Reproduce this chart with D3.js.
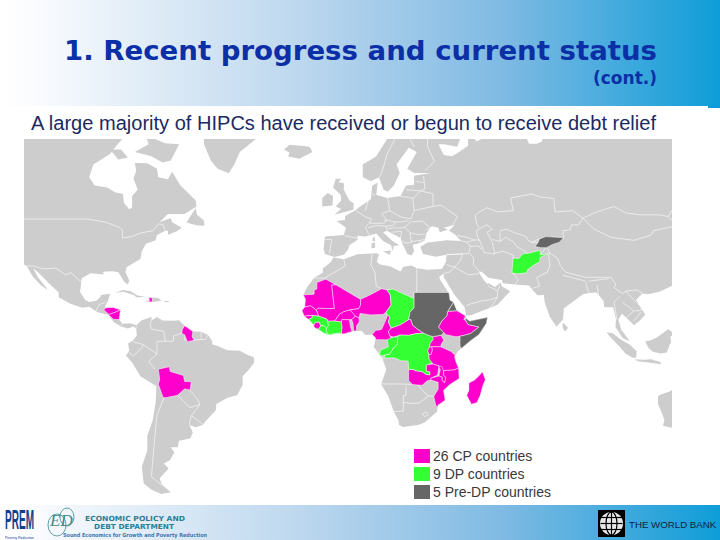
<!DOCTYPE html>
<html><head><meta charset="utf-8">
<script src="https://cdn.jsdelivr.net/npm/d3@7"></script>
<style>html,body{margin:0;padding:0;background:#fff}svg{display:block}</style></head>
<body><svg id="c" width="720" height="540"></svg>
<script>
const titleText = "1. Recent progress and current status";
const contText = "(cont.)";
const subtitleText = "A large majority of HIPCs have received or begun to receive debt relief";
const legendLabels = ["26 CP countries", "9 DP countries", "5 Pre-DP countries"];
const legendKeys = ["CP", "DP", "PreDP"];
const statusColors = ["#ff00cc", "#33ff33", "#666666"];

// Calibration of the reference map (longitude / latitude anchors read from it)
const lonAnchors = [-118, -87, -17.5, 51, 80, 113.5, 121];
const lonPixels  = [24, 110, 302, 487, 563, 658, 680];
const latAnchors = [-55, -34.8, -17, 0, 8, 25, 36, 49, 65, 75];
const latPixels  = [493, 427, 383, 344.5, 327, 285, 257, 219, 152, 100];

const land = [
 [[-140,75],[-130,72],[-120,70],[-115,68.5],[-108,68],[-100,68],[-95,68.5],[-95,72],[-90,69],[-85,69.5],[-81,68.5],[-85,66],[-87,64.5],[-93,62],[-94.5,59],[-92.5,57],[-88,56.5],[-85,55.3],[-82.3,55],[-82,52.9],[-80,51.3],[-79,51.8],[-79,54.5],[-77,56],[-78.5,58.7],[-77.5,60.5],[-78,62.4],[-73.5,62.3],[-70,61],[-69.5,59],[-66,58.5],[-64.5,60.3],[-61.5,57],[-56,53.5],[-55.7,52],[-60,50.2],[-66,50.2],[-69,48],[-65,49.2],[-64.5,47.9],[-61,46],[-63,44.7],[-66,43.6],[-66,45],[-67,45],[-70,43.5],[-70.5,41.7],[-74,40.5],[-75.5,38],[-76,35.2],[-78,33.9],[-81,32],[-81.4,30],[-80,26.8],[-80.5,25.2],[-81.8,26.2],[-82.8,28],[-84,30],[-86,30.4],[-89.5,30.2],[-89.3,29.1],[-91,29.3],[-94,29.6],[-97.2,27.7],[-97.5,24.5],[-97.8,22.3],[-96,19],[-94.5,18.1],[-92,18.6],[-90.5,20],[-90.3,21],[-87,21.5],[-87.7,18.5],[-88.5,17],[-88.8,15.9],[-86,15.9],[-83.2,15],[-83.7,11],[-82.5,9.3],[-79.7,9.5],[-77.4,8.7],[-77.8,7.3],[-78.4,8.3],[-80.5,7.3],[-83,8.2],[-85.7,10],[-87.6,13],[-91.5,14],[-94.5,16.2],[-97,15.8],[-101.5,17.5],[-105.5,20],[-105.5,22],[-109,25.7],[-112.5,29.5],[-114.7,31.7],[-113,28],[-110,24],[-109.5,23],[-112,25],[-115,28.5],[-117,32.5],[-120.5,34.5],[-125,40],[-130,50],[-140,60]],
 [[-77.4,8.7],[-75.5,10.7],[-72,12],[-71.7,10.8],[-70,12],[-68,10.6],[-64,10.5],[-62,10.7],[-60,8.5],[-57,6],[-54,5.8],[-51.5,4.3],[-50,1.5],[-50,0],[-48,-0.7],[-44.5,-2.5],[-40,-2.8],[-37,-4.8],[-35,-5.5],[-34.8,-8],[-37,-11.5],[-39,-14],[-39,-17.8],[-41,-22],[-44.5,-23],[-48.5,-25.5],[-48.7,-28],[-52,-32],[-53.5,-34],[-56,-34.9],[-58.3,-34],[-57,-36.5],[-58,-38.3],[-62,-39],[-62.5,-41],[-65,-41],[-63.7,-42.5],[-65.3,-45],[-67.5,-46],[-65.8,-47.5],[-69,-50.5],[-68.3,-52.4],[-65,-54.8],[-68.5,-55.3],[-72,-54],[-74.8,-52],[-75.5,-47],[-73.5,-42],[-73.5,-37.5],[-71.5,-32],[-70.5,-25],[-70.2,-18.3],[-76,-14],[-79,-8],[-81.2,-5],[-80,-2.5],[-80.5,0.5],[-78.7,1.8],[-77.3,4],[-77.5,7]],
 [[-55,75],[-53,69],[-53,66.5],[-50.5,63],[-48,61],[-44,59.9],[-42,62],[-40,65],[-33,68],[-22,70.5],[-22,75]],
 [[-24,65.5],[-22,66.4],[-18,66.2],[-14.7,66],[-13.6,65],[-18.5,63.4],[-22.5,63.9],[-22,64.8]],
 [[-80,73],[-78,70],[-73,68],[-67,66.7],[-62,66.5],[-65,63],[-68,62.5],[-72,64],[-78,65],[-73,66.5],[-74,68],[-85,70],[-90,73]],
 [[-87,65.5],[-84,63.2],[-80.5,63.7],[-83,65.5]],
 [[-59.3,47.8],[-56,51.6],[-55.5,50],[-53,48.5],[-52.8,46.7],[-55.8,46.9]],
 [[-85,21.9],[-82.5,23],[-79.5,22.5],[-77,20.8],[-74.2,20.2],[-77.5,19.9],[-78,20.7],[-82,22.3]],
 [[-71.7,18.1],[-68.4,18.6],[-69.5,19.7],[-71.7,19.9]],
 [[-67.2,18],[-65.6,18.2],[-65.8,18.5],[-67.2,18.5]],
 [[-5.9,35.8],[-2,35.1],[3,36.9],[10,37.3],[11,36.9],[10.2,34],[11.5,33.1],[15.3,32.3],[19,30.3],[20,32.2],[23,32.7],[25,31.6],[29,31],[32.3,31.2],[32.6,29.9],[33.7,27],[35.6,23.9],[37.2,21],[37.3,18.9],[38.6,18],[39.7,15],[43.1,12.6],[43.3,11.5],[44.5,10.4],[51.2,11.9],[50.8,9.5],[48,4.5],[45,1.8],[41.6,-1.7],[40.2,-3],[39,-5.5],[39.6,-8],[40.5,-10.5],[40.7,-15],[37,-17.8],[34.9,-20],[35.5,-24],[32.8,-26],[32.5,-28.5],[31,-30],[27.9,-33],[25.5,-34],[20,-34.8],[18.4,-34],[18.2,-32],[16.5,-28.6],[14.5,-22.5],[11.8,-17.5],[13.7,-11],[12.2,-6],[9,-1],[9.5,1],[9.8,3.5],[8.5,4.6],[6,4.3],[4.5,6.3],[1,5.9],[-2,4.8],[-4.5,5.2],[-7.5,4.4],[-11.5,6.9],[-13.2,8.8],[-15,11],[-16.7,12.4],[-17.5,14.7],[-16.3,16],[-16.2,19.2],[-17,21],[-15.8,23.8],[-13,27.8],[-9.8,29.8],[-9.8,31.5],[-6.8,34]],
 [[5,60],[5,62],[10,64],[14,67.5],[20,70],[26,71],[31,70],[41,67.5],[40,66],[35,66.5],[33,66.5],[35,64.3],[38,64],[40,64.7],[44,66.2],[44,68],[46,68.2],[47,67],[53,68.5],[65,69],[67,66.6],[70,66.6],[72,67],[73,72],[130,73],[130,50],[122,40],[121,39],[118,39],[122,37],[119.5,35],[122,31],[121.5,28],[118,24.5],[114,22.3],[110,21.3],[108,21.6],[105.8,19],[109,13],[107,10.5],[105,8.7],[103,11],[100.8,13.4],[99.5,11],[100.5,7],[103.5,1.5],[101,3],[98.5,8],[98.7,11],[97.7,16],[94.5,16],[94.3,18.5],[91.8,22],[89,21.8],[87,21.3],[85,19.5],[80.3,15.5],[80,11],[77.5,8.1],[75,12],[73,18],[72.7,21],[70.3,20.9],[69,22.3],[67,24.8],[61.6,25.2],[57,25.7],[56.7,27],[51.5,27.8],[49,30.3],[48,29.9],[50,26.7],[51.6,25],[51.2,26],[54,24.2],[56.3,26],[56.6,24.5],[59.8,22.5],[55,17],[52,15.7],[45,12.8],[43.3,12.7],[42.7,16],[39,21],[35,28],[34.9,29.5],[33.2,28],[32.6,29.9],[32.3,31.2],[34.3,31.3],[35.8,34],[36,36.8],[32,36.1],[30,36.5],[27.3,37],[26.3,39.5],[29,41],[31.5,41.2],[36,41.7],[41.5,41.5],[39,43.8],[37,45],[39,47],[35,46],[36.5,45.3],[33.5,44.5],[33,46],[30.5,46.5],[28.5,44],[28,41.7],[26,40.7],[23.5,40.2],[24,38],[23,36.5],[21.5,37],[19.5,41],[19,42.5],[14,45],[12.5,44.5],[16,41.5],[18.5,40],[16.5,39.8],[16,38],[15.5,40],[12.5,41.5],[10,44],[6,43],[3,43.3],[3.2,42],[0,40],[-0.5,38.5],[-2,36.8],[-5.5,36],[-9,37],[-9.5,38.7],[-9,43],[-2,43.5],[-1.2,46],[-4.7,48.3],[-1.6,48.7],[-1.5,49.7],[2,51],[4,52],[8,53.7],[8.5,57],[10.5,57.7],[10,54.8],[14,54],[19,54.5],[21,57],[24,57.2],[24,59.3],[30,60],[24,60],[21.5,61],[25,65],[22,65.8],[17.5,62],[18.7,60],[16.5,57],[14.2,55.5],[12.7,56],[11,59],[8,58],[5,59]],
 [[-5.5,50],[1.5,51.2],[1.7,52.7],[0,53.5],[-2,56],[-2,57.6],[-4,57.7],[-3,58.6],[-5,58.6],[-6,56.5],[-3.2,54.8],[-3,53.4],[-5,52],[-3,51.4]],
 [[-10,52],[-6.2,52.2],[-6,54.5],[-8,55.2],[-10,54]],
 [[8.2,39],[9.6,39.2],[9.5,41],[8.3,40.8]],[[8.6,41.5],[9.5,41.5],[9.4,43],[8.7,42.5]],[[12.5,38],[15.5,38.2],[15,36.7]],
 [[80,9.8],[81.8,7.5],[80.6,6],[79.8,8]],
 [[95.3,5.6],[97.5,5.2],[100.5,2.2],[103.5,0],[106,-3],[105.8,-5.8],[104.5,-5.8],[102,-4],[100,-1],[97,3]],
 [[105.2,-6.5],[108.5,-6.7],[111,-6.5],[114.4,-7.8],[114.4,-8.7],[110,-8],[106.5,-7.4]],
 [[109,1.5],[111,2],[113,3.2],[115,5],[117,7],[119,5],[117.7,3.5],[118,1],[117.5,0],[116.5,-3.5],[114.5,-4],[111.7,-3.2],[110,-1.3]],
 [[113.5,-22.5],[114.2,-21.8],[117,-20.6],[122,-18],[130,-20],[130,-32],[124,-33],[120,-34],[118,-35],[115.2,-34.3],[115.7,-32],[114.6,-28.5],[113.5,-25.5]]
];

const cpCountries = [
 {name:"Mauritania",coords:[[-17,21],[-13,21.3],[-13,23],[-12,23.4],[-12,26],[-8.7,27.3],[-4.8,25],[-6.5,25],[-5.5,15.5],[-9.3,15.5],[-11.5,15.6],[-12.2,14.8],[-14.3,16.6],[-16.5,16.1],[-16.2,19.2]]},
 {name:"Mali",coords:[[-12.2,14.8],[-11.5,15.6],[-9.3,15.5],[-5.5,15.5],[-6.5,25],[-4.8,25],[1.2,21.1],[3.2,19.8],[4.2,19.2],[4.2,16.9],[3.5,15.4],[0.3,14.9],[-2,14.2],[-3.5,13.3],[-5.4,10.4],[-8,10.3],[-8.3,11.2],[-11.4,12.4]]},
 {name:"Senegal",coords:[[-17.5,14.7],[-16.5,16.1],[-14.3,16.6],[-12.2,14.8],[-11.4,12.4],[-13.7,12.7],[-16.7,12.4]]},
 {name:"Guinea-Bissau",coords:[[-16.7,12.4],[-13.7,12.7],[-13.7,11.8],[-15,11]]},
 {name:"Sierra Leone",coords:[[-13.2,8.8],[-12.5,9.9],[-11.2,10],[-10.5,8.5],[-11.5,7],[-12.9,7.7]]},
 {name:"Ghana",coords:[[-3,5.1],[-2.7,8],[-3,10],[-2.8,11],[0,11],[0.5,8],[1,6],[-2,4.8]]},
 {name:"Burkina Faso",coords:[[-5.4,10.4],[-3.5,13.3],[-2,14.2],[0.3,14.9],[2.3,12.5],[1,11],[0,11],[-2.8,11],[-3,10]]},
 {name:"Benin",coords:[[1.6,6.2],[1.4,9.5],[0.9,11],[2.3,12.4],[3.6,11.7],[3.7,10],[2.7,8.5],[2.7,6.3]]},
 {name:"Niger",coords:[[0.3,14.9],[3.5,15.4],[4.2,16.9],[4.2,19.2],[7.5,20.9],[12,23.5],[14,23],[15.2,21],[15.5,16.9],[13.6,14],[12.5,13.1],[8,12.9],[4,13.5],[3.6,11.7],[2.3,12.4]]},
 {name:"Cameroon",coords:[[8.5,4.6],[9.8,3],[9.8,2.2],[13,2.2],[16,2],[15,4],[14.5,6],[15.5,7.5],[14.5,10],[15,12],[14.1,13],[14,12],[13,9.5],[12,7],[11,6.6],[9.8,6.5]]},
 {name:"Central African Republic",coords:[[14.5,6],[15,4],[16.5,3.4],[18.6,4.3],[22,4.2],[25,5],[27.5,5.2],[25,7.3],[23.5,8.7],[22.8,11],[22,11],[19,9],[15.5,7.5]]},
 {name:"Ethiopia",coords:[[36.5,14.3],[37,14.4],[40,14.6],[43.1,12.6],[42.4,11],[43,10.9],[44,9],[48,8],[44.9,5],[42,4],[39.5,3.5],[35.9,4.5],[35,5.4],[33,8],[34.3,10.5],[36.1,12.5]]},
 {name:"Uganda",coords:[[31,2.3],[30.9,3.6],[34,4.2],[35,1.9],[34,0],[33.9,-1],[30.5,-1],[29.6,-1.3],[29.9,0.5]]},
 {name:"Rwanda and Burundi",coords:[[29,-1.3],[30.5,-1],[30.8,-2.4],[30.3,-4.4],[29.4,-4.4],[29,-2.8]]},
 {name:"Tanzania",coords:[[30.5,-1],[33.9,-1],[37.7,-3.1],[39.2,-4.7],[39,-5.5],[39.6,-8],[40.5,-10.5],[38.5,-11.3],[35,-11.5],[34.9,-11.6],[33.2,-9.5],[31,-8.6],[29.5,-6.5],[29.4,-4.4],[30.3,-4.4],[30.8,-2.4]]},
 {name:"Zambia",coords:[[22,-11],[24,-11],[24.3,-11.5],[27,-12],[28.5,-13.2],[29.8,-13.4],[29.8,-12.1],[28.5,-11.9],[28.5,-9],[31,-8.6],[33.2,-9.5],[32.7,-13.5],[30.2,-14.9],[30.2,-15.7],[28.9,-16],[27,-17.9],[25.3,-17.8],[23.4,-17.6],[22,-16]]},
 {name:"Malawi",coords:[[33,-9.5],[34.3,-9.7],[34.9,-11.6],[34.9,-13.5],[35.8,-14.6],[35.3,-17],[34.3,-15.8],[34.4,-14.4],[33.2,-13.9],[33.7,-11]]},
 {name:"Mozambique",coords:[[40.5,-10.5],[38.5,-11.3],[35,-11.5],[34.9,-13.5],[35.8,-14.6],[35.3,-17],[34.3,-15.8],[34.4,-14.4],[33.2,-13.9],[30.2,-14.9],[30.2,-15.7],[32.9,-16.7],[32.9,-19.5],[31.3,-22.4],[32,-26],[32.8,-26.8],[32.8,-26],[35.5,-24],[34.9,-20],[37,-17.8],[40.7,-15]]},
 {name:"Madagascar",coords:[[49.3,-12],[50.4,-15.5],[49.5,-18],[48.5,-22],[47.2,-25],[45.2,-25.6],[43.5,-22],[44.3,-20],[44.3,-17],[46.4,-15.7],[48.3,-13.5]]},
 {name:"Honduras",coords:[[-89.3,15],[-88.3,15.8],[-85.8,15.9],[-83.2,15],[-85,14],[-87.3,13]]},
 {name:"Nicaragua",coords:[[-83.2,15],[-83.7,11],[-85.7,11.1],[-87.6,13],[-85,14]]},
 {name:"Guyana",coords:[[-60,8.5],[-57,6],[-57.3,3.5],[-56.5,1.9],[-59,1.3],[-60,4.5],[-61,5],[-60.8,6.9]]},
 {name:"Bolivia",coords:[[-69.5,-10.9],[-65.5,-9.8],[-65.2,-11.9],[-60.4,-13.7],[-60,-16.3],[-57.6,-16.5],[-58,-19.8],[-60,-19.4],[-62.6,-22],[-67,-23],[-67.8,-22.8],[-69.5,-17.5],[-69,-15.5]]},
 {name:"Haiti",coords:[[-74.4,18.4],[-71.7,18.1],[-71.7,19.8],[-73,19.9],[-72.7,18.7]]}
];
const dpCountries = [
 {name:"Guinea",coords:[[-15,11],[-13.7,11.8],[-13.7,12.7],[-11.4,12.4],[-8.3,11.2],[-8,10.3],[-7.7,8.5],[-8.5,7.6],[-9.5,8.5],[-10.5,8.5],[-11.2,10],[-12.5,9.9],[-13.2,8.8]]},
 {name:"Liberia",coords:[[-11.5,6.9],[-10.5,8.5],[-9.5,8.5],[-8.5,7.6],[-8.5,6],[-7.5,4.4],[-9.5,5.3]]},
 {name:"Cote d'Ivoire",coords:[[-7.5,4.4],[-8.5,6],[-8.5,7.6],[-7.7,8.5],[-8,10.3],[-5.4,10.4],[-3,10],[-2.7,8],[-3,5.1],[-4.5,5.2]]},
 {name:"Chad",coords:[[13.6,14],[15.5,16.9],[15.2,21],[14,23],[16,23.4],[24,19.5],[24,15.7],[22.5,14],[22,11],[19,9],[15.5,7.5],[14.5,10],[15,12],[14.1,13]]},
 {name:"DR Congo",coords:[[12.2,-6],[13,-5.9],[13.2,-4.6],[15,-4.2],[16.3,-1.6],[17.7,0],[18,3.5],[18.6,4.3],[22,4.2],[25,5],[27.5,5.2],[29,4.4],[30.9,3.6],[31,2.3],[29.9,0.5],[29.6,-1.3],[29,-2.8],[29.4,-4.4],[29.5,-6.5],[30.7,-8.2],[28.5,-9],[28.5,-11.9],[29.8,-12.1],[29.8,-13.4],[28.5,-13.2],[27,-12],[24.3,-11.5],[24,-11],[22,-11],[21.8,-7.3],[19.4,-7.2],[16.6,-5.9]]},
 {name:"Congo",coords:[[11.2,-4.7],[12.2,-5],[13.2,-4.6],[15,-4.2],[16.3,-1.6],[17.7,0],[18,3.5],[16.5,3.4],[14,2.2],[14.5,-1],[11.5,-2.5]]},
 {name:"Afghanistan",coords:[[60.5,29.8],[61,35.6],[63,35.3],[64.7,37.1],[67,37.3],[71.2,38.3],[71.4,36.7],[74.9,37.3],[71.4,36],[71,34],[69,33],[66.5,31],[66.3,29.8],[62.5,29.4]]}
];
const preDpCountries = [
 {name:"Sudan",coords:[[24,19.5],[24,22],[36.9,22],[37.3,18.9],[38.6,18],[36.5,14.3],[36.1,12.5],[34.3,10.5],[33,8],[35,5.4],[34,4.2],[30.9,3.6],[29,4.4],[27.5,5.2],[25,7.3],[23.5,8.7],[22.8,11],[22,11],[22.5,14],[24,15.7]]},
 {name:"Eritrea",coords:[[36.5,14.3],[38.6,18],[39.7,15],[43.1,12.6],[40,14.6],[37,14.4]]},
 {name:"Somalia",coords:[[43.3,11.5],[44.5,10.4],[51.2,11.9],[50.8,9.5],[48,4.5],[45,1.8],[41.6,-1.7],[41,-0.8],[41,3.9],[42,4],[44.9,5],[48,8],[44,9],[43,10.9]]},
 {name:"Kyrgyzstan",coords:[[69.3,39.6],[70.5,41],[71,42.2],[73.5,43],[80.2,42.6],[78.5,41],[76,40.3],[73.7,39.2],[71.5,39.2]]}
];
const borders = [
 [[-118,49],[-95,49],[-89,48],[-84.5,46.5],[-82.5,45.3],[-82.5,42.5],[-79,43],[-76,44.2],[-71.5,45],[-69.3,47.4],[-67.8,47],[-67,45]],
 [[-117,32.5],[-114.7,32.5],[-111,31.3],[-108,31.5],[-106.5,31.7],[-103,29],[-101,29.8],[-97.2,26]],
 [[-92,14.5],[-91,17],[-89,17.8],[-88.3,18.5]],[[-83,8.5],[-82.6,9.5]],
 [[-71.7,12],[-72.5,9],[-72,7],[-67.5,6],[-67,1.5]],[[-67,1.5],[-64,1.5],[-64,4],[-60.8,5.2]],[[-67,1.5],[-70,1.5],[-70,-4.2]],[[-78.7,1.3],[-75,0],[-70,-4.2]],[[-80.3,-3.4],[-78.5,-5],[-75.5,-1.5],[-75,0]],[[-70,-4.2],[-73,-7.5],[-70.6,-11]],
 [[-67.5,-23],[-70,-30],[-71,-40],[-72,-50],[-68.5,-52.5]],[[-58,-20],[-55,-24],[-54.5,-25.7],[-57.5,-30.2],[-53.4,-33.7]],[[-62.6,-22],[-58,-27],[-54.5,-25.7]],[[-57.6,-30.2],[-58.3,-34]],
 [[-54,5.8],[-54,2.3],[-57,1.9]],[[-51.5,4.3],[-52.5,2.3],[-54,2.3]],[[-59.8,5],[-60,2],[-56.5,1.9]],
 [[-2,35],[-1.5,32.5],[-8.7,28],[-8.7,27.3]],[[-13,27.7],[-8.7,27.7]],[[8.5,37],[8,33],[9.5,30],[10,24.5],[12,23.5]],[[25,31.6],[25,22]],[[24,19.5],[24,22],[25,22]],
 [[11.8,-17.3],[14,-17.4],[18.5,-17.4],[23.4,-17.6]],[[21,-18.3],[21,-22],[20,-22],[20,-28.4]],[[16.5,-28.6],[20,-28.4]],[[20,-24.8],[23,-25.3],[26,-25],[29.4,-22.2]],[[25.3,-17.8],[27.5,-20.5],[29.4,-22.2],[31.3,-22.4]],[[27,-29.6],[28.5,-28.7],[29.3,-29.7],[28,-30.6],[27,-29.6]],
 [[-1.8,43.3],[3.2,42.4]],[[-8.8,42],[-6.5,42],[-7,39],[-7.4,37.2]],[[2.5,51],[6,49.5],[8.2,49],[7.5,47.6],[6,46.3],[7,44],[7.5,43.8]],[[6,51],[7,53.4]],[[8.5,54.9],[9.5,54.8]],[[14.2,54],[15,51],[12,50.3],[13.8,48.7],[13,47.6],[10,47.5],[7.5,47.6]],[[15,51],[19,49.5],[22.8,49],[24,51],[23.5,54],[19,54.4]],[[7,46],[10,46.8],[13.7,46.5],[13.7,45.6]],[[13,48.7],[17,48],[16.5,46.9],[13.7,46.5]],[[17,48],[19,48],[22,48.4]],[[22.8,48],[20.5,46.2],[22.5,44.3],[25,43.7],[28,43.8]],[[22.8,48],[27,48.3],[30,46],[28.6,45.3]],[[13.7,45.5],[16.5,46],[19,45.9],[20.5,46.2]],[[16,44.5],[19.3,44.8],[19,42.5]],[[22.5,44.3],[23,41],[20.7,40.8],[19.5,41.5]],[[23,41.3],[26.3,41.7],[26,40.7]],[[26.3,41.7],[28,42]],
 [[24,51],[31,52],[34,52.3],[40,49.6],[38.5,47.1]],[[23.5,53.9],[26.5,55.7],[31,55],[31,52]],[[21,56],[26.5,55.7],[28,56.2],[27.5,59.3]],[[24.4,58],[27.5,57.7]],[[28,60.5],[31.5,62.8],[29,66],[29,69.8]],[[11.2,59],[12.5,61],[14,64.5],[18,68.5],[20,69]],[[24,66],[21,69]],
 [[41.5,41.5],[43.5,41.1],[44.8,39.7],[44.3,37.2],[42.3,37.1],[36,36.8]],[[40,43.4],[44,42.6],[46.5,41.8],[48.5,41.8]],[[43.5,41.1],[46.5,41.8]],[[44.8,39.7],[48,39.7],[49,38.5]],
 [[47,45],[51,47],[53,45.5],[51,44.5],[53,41],[54,37],[50,37.5],[49,40],[47.5,43],[47,45]],
 [[44.8,37],[46,35.5],[46,33],[48,30.5],[48.5,30]],[[54,37.3],[57,38],[61,36.6],[61,35.6]],[[60.5,29.8],[61,29.5],[63,27],[61.6,25.2]],[[74.5,37],[75,32.5],[74,30],[70,28],[71,24.5],[68.5,23.7]],[[39,32],[44,29],[48,29.5]],[[36,36.8],[42,37],[41,34.3],[39,32],[36,33]],[[35,29.5],[37,30],[39,32]],[[51.5,24.5],[55,22.7],[55,20],[52,19],[49,18.5],[45,17.4],[43.3,16.5]],[[52,15.7],[53,16.8],[55,20]],[[55,22.7],[56,24.7]],
 [[48,46],[47,48],[46.7,49.8],[47.5,50.4],[51,51.7],[55,50.7],[61,51],[60,54],[68,55],[71,54.3],[76.5,53.9],[77,50.7],[80,50.8],[83.5,51],[87,49.2]],[[87,49.2],[85.5,47],[83,47],[82.5,45.3],[80,45],[80.2,42.1]],[[73.5,42.5],[71,42.2],[68,41],[66.5,41.9],[66,43],[61,44.5],[58.5,45.5],[56,45],[56,41.3],[53,42]],[[56,41.3],[58,42.7],[61,41.2],[62.5,39.5],[66.5,37.4]],[[69.3,39.6],[71,41],[68,41]],[[71.4,36.7],[73.7,39.5]],[[74.9,37.3],[73.7,39.5]],
 [[87,49.2],[92,50.7],[98,52],[102,50.5],[107,50],[114,50],[117,49.6],[120,47],[119,46.5],[112,45],[111,43.5],[105,41.7],[97,42.7],[91,45.5],[87,49.2]],[[117,49.6],[120,53],[126,53]],
 [[74.9,37.3],[78,35.5],[79,32.5],[81,30],[88,28],[92,28],[97,28]],[[97,28],[98.7,25],[98,24],[101,21.5]],[[102,22.5],[106,23],[108,21.6]],[[101,21.5],[102,22.5],[105,19],[107.5,16],[107.5,14.7]],[[100,20.3],[98,18],[99,11]],[[101,18],[105,14.5],[102.5,12]],[[107.5,14.7],[105,14.5]],[[107.5,14],[105,10.5]],[[80,28.8],[88,26.5]],[[88,26],[89,22]],[[92,25],[92.5,21]],[[89,26.5],[96,27.5]],[[100.5,6.5],[102,6]]
];

const svg = d3.select("#c");
const defs = svg.append("defs");
const grad = defs.append("linearGradient").attr("id","band").attr("x1","0").attr("x2","1").attr("y1","0").attr("y2","0");
[[0,"#ffffff"],[0.04,"#fbfcfe"],[0.42,"#bcd7ee"],[0.7,"#7fbae3"],[1,"#0e9dd8"]].forEach(s=>grad.append("stop").attr("offset",s[0]).attr("stop-color",s[1]));
defs.append("clipPath").attr("id","mapClip").append("rect").attr("x",24).attr("y",139).attr("width",648).attr("height",366);

svg.append("rect").attr("width",720).attr("height",106).attr("fill","url(#band)");
svg.append("rect").attr("x",708).attr("y",106).attr("width",12).attr("height",2).attr("fill","#0e9dd8");
svg.append("rect").attr("y",505).attr("width",720).attr("height",35).attr("fill","url(#band)");

const xScale = d3.scaleLinear().domain(lonAnchors).range(lonPixels);
const yScale = d3.scaleLinear().domain(latAnchors).range(latPixels);
const projection = d3.geoTransform({point(lon,lat){ this.stream.point(xScale(lon), yScale(lat)); }});
const path = d3.geoPath(projection);
const polygon = c => ({type:"Polygon",coordinates:[c.concat([c[0]])]});

const map = svg.append("g").attr("clip-path","url(#mapClip)");
map.selectAll("path.land").data(land).join("path").attr("class","land")
  .attr("d",d=>path(polygon(d))).attr("fill","#cdcdcd");
map.selectAll("path.border").data(borders).join("path").attr("class","border")
  .attr("d",d=>path({type:"LineString",coordinates:d})).attr("fill","none")
  .attr("stroke","#ffffff").attr("stroke-width",0.7).attr("stroke-opacity",0.85);

const groups = [cpCountries, dpCountries, preDpCountries];
groups.forEach((g,i)=>{
  map.selectAll("path.s"+legendKeys[i]).data(g).join("path").attr("class","s"+legendKeys[i])
    .attr("d",d=>path(polygon(d.coords))).attr("fill",statusColors[i])
    .attr("stroke","#ffffff").attr("stroke-width",0.5).attr("stroke-linejoin","round");
});

// Text
svg.append("text").attr("x",64).attr("y",60).text(titleText)
  .attr("font-family","DejaVu Sans").attr("font-weight","bold").attr("font-size",27).attr("fill","#0b2fa6")
  .attr("textLength",593).attr("lengthAdjust","spacingAndGlyphs");
svg.append("text").attr("x",657).attr("y",84).attr("text-anchor","end").text(contText)
  .attr("font-family","DejaVu Sans").attr("font-weight","bold").attr("font-size",17).attr("fill","#0b2fa6");
svg.append("text").attr("x",31).attr("y",130).text(subtitleText)
  .attr("font-family","Liberation Sans").attr("font-size",20).attr("fill","#1b2a63")
  .attr("textLength",625).attr("lengthAdjust","spacingAndGlyphs");

// Legend
const legendY = d3.scaleBand().domain(legendKeys).range([447,501]);
const leg = svg.append("g").selectAll("g").data(legendKeys).join("g");
leg.append("rect").attr("x",414).attr("y",d=>legendY(d)+2).attr("width",16).attr("height",14)
  .attr("fill",(d,i)=>statusColors[i]);
leg.append("text").attr("x",433).attr("y",d=>legendY(d)+14).text((d,i)=>legendLabels[i])
  .attr("font-family","Liberation Sans").attr("font-size",14).attr("fill","#3a3a3a");

// Footer logos
svg.append("text").attr("x",5).attr("y",529).text("PREM").attr("font-family","Liberation Sans").attr("font-weight","bold")
  .attr("font-size",27).attr("fill","#12408f").attr("textLength",29).attr("lengthAdjust","spacingAndGlyphs");
svg.append("text").attr("x",5).attr("y",538.5).text("Poverty Reduction").attr("font-family","Liberation Sans")
  .attr("font-size",3.5).attr("fill","#12408f").attr("textLength",29);
svg.append("ellipse").attr("cx",57).attr("cy",525).attr("rx",9).attr("ry",11).attr("fill","none").attr("stroke","#3e8a88").attr("stroke-width",0.8);
svg.append("ellipse").attr("cx",67).attr("cy",517).attr("rx",7).attr("ry",9).attr("fill","none").attr("stroke","#3e8a88").attr("stroke-width",0.8);
svg.append("text").attr("x",50).attr("y",526).text("ED").attr("font-family","Liberation Serif").attr("font-style","italic")
  .attr("font-size",17).attr("fill","#3e8a88");
const footTxt = (t,x,y,size,w,col,weight)=>svg.append("text").attr("x",x).attr("y",y).text(t).attr("font-family","DejaVu Sans")
  .attr("font-size",size).attr("font-weight",weight).attr("fill",col).attr("textLength",w).attr("lengthAdjust","spacingAndGlyphs");
footTxt("ECONOMIC POLICY AND",85,521,7,100,"#2b7f95","bold");
footTxt("DEBT DEPARTMENT",94,528.5,7,80,"#2b7f95","bold");
footTxt("Sound Economics for Growth and Poverty Reduction",63,536.5,5.5,144,"#3b78b0","bold");

const wb = svg.append("g");
wb.append("rect").attr("x",598).attr("y",510).attr("width",27).attr("height",27).attr("fill","#000");
wb.append("circle").attr("cx",611.5).attr("cy",523.5).attr("r",11.5).attr("fill","#e8e8e8");
wb.append("ellipse").attr("cx",611.5).attr("cy",523.5).attr("rx",5.5).attr("ry",11.5).attr("fill","none").attr("stroke","#000").attr("stroke-width",1.2);
[-6,0,6].forEach(d=>wb.append("line").attr("x1",600.5).attr("x2",622.5).attr("y1",523.5+d).attr("y2",523.5+d).attr("stroke","#000").attr("stroke-width",1.2));
wb.append("line").attr("x1",611.5).attr("x2",611.5).attr("y1",512).attr("y2",535).attr("stroke","#000").attr("stroke-width",1.2);
svg.append("text").attr("x",629).attr("y",528).text("THE WORLD BANK").attr("font-family","Liberation Sans")
  .attr("font-size",9.7).attr("fill","#0d1f3f");
</script></body></html>
